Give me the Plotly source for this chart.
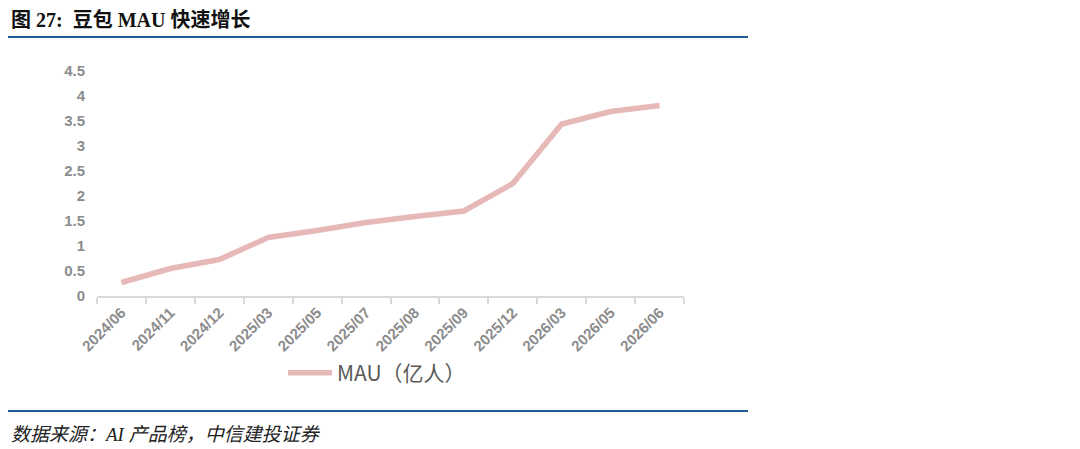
import plotly.graph_objects as go

months = ["2024/06", "2024/11", "2024/12", "2025/03", "2025/05", "2025/07",
          "2025/08", "2025/09", "2025/12", "2026/03", "2026/05", "2026/06"]
mau = [0.27, 0.55, 0.73, 1.17, 1.31, 1.47, 1.59, 1.70, 2.25, 3.44, 3.69, 3.81]
y_ticks = [0, 0.5, 1, 1.5, 2, 2.5, 3, 3.5, 4, 4.5]
y_labels = ["0", "0.5", "1", "1.5", "2", "2.5", "3", "3.5", "4", "4.5"]

OFF = 8  # page body margin in the browser
W, H = 1080 - OFF, 449 - OFF
L, R, T, B = 97 - OFF, 684 - OFF, 71 - OFF, 296 - OFF   # plot area in pixels


def px_x(x):
    return (x - OFF - L) / (R - L)


def px_y(y):
    return (B - (y - OFF)) / (B - T)


fig = go.Figure()
fig.add_trace(go.Scatter(
    x=months, y=mau, mode="lines", name="MAU（亿人）",
    line=dict(color="#e6b9b8", width=5.5),
))

fig.update_layout(
    width=W, height=H,
    margin=dict(l=L, r=W - R, t=T, b=H - B),
    paper_bgcolor="white", plot_bgcolor="white",
    font=dict(family="Noto Sans CJK SC, Liberation Sans, sans-serif"),
    showlegend=True,
    legend=dict(x=px_x(283), y=px_y(373), xanchor="left", yanchor="middle",
                font=dict(size=21, color="#595959"), itemwidth=44,
                bgcolor="rgba(0,0,0,0)"),
    xaxis=dict(type="category", range=[-0.5, len(months) - 0.5],
               showline=True, linecolor="#d9d9d9", linewidth=2,
               ticks="outside", tickson="boundaries", ticklen=6,
               tickcolor="#d9d9d9", tickwidth=1.5, tickangle=-45,
               showgrid=False, zeroline=False,
               tickfont=dict(family="Liberation Sans, Arial", size=15,
                             color="#8c8c8c", weight="bold")),
    yaxis=dict(range=[0, 4.5], tickvals=y_ticks, ticktext=y_labels,
               showline=False, showgrid=False, zeroline=False, ticks="",
               ticklabelstandoff=11,
               tickfont=dict(family="Liberation Sans, Arial", size=15,
                             color="#8c8c8c", weight="bold")),
)

# header and footer rules
for yy in (37, 411):
    fig.add_shape(type="line", xref="paper", yref="paper",
                  x0=px_x(0), x1=px_x(748), y0=px_y(yy), y1=px_y(yy),
                  line=dict(color="#1f5b8c", width=2))

fig.add_annotation(text="<b>图 27:  豆包 MAU 快速增长</b>",
                   xref="paper", yref="paper", x=px_x(9), y=px_y(20),
                   xanchor="left", yanchor="middle", showarrow=False,
                   font=dict(family="Liberation Serif, Noto Sans CJK SC",
                             size=20, color="#111111"))
fig.add_annotation(text="<i>数据来源：AI 产品榜，中信建投证券</i>",
                   xref="paper", yref="paper", x=px_x(9), y=px_y(434),
                   xanchor="left", yanchor="middle", showarrow=False,
                   font=dict(family="Liberation Serif, Noto Sans CJK SC",
                             size=19, color="#222222"))

fig.write_html("out.html")
